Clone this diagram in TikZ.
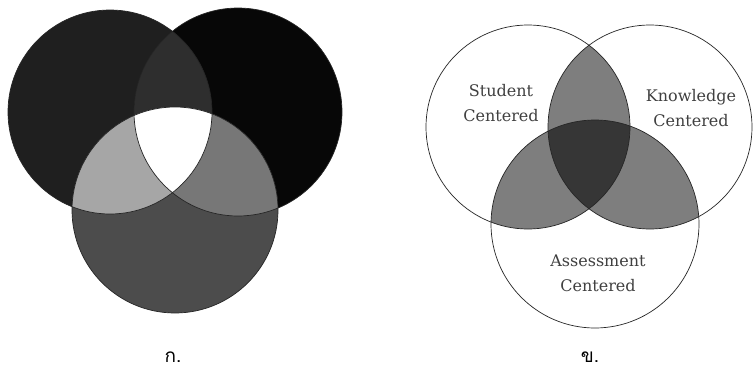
\documentclass[tikz,border=0pt]{standalone}
\usepackage{fontspec}
\setmainfont{DejaVu Serif}
\newfontfamily\thaifont[Script=Thai]{Loma}
\definecolor{cA}{HTML}{1F1F1F}
\definecolor{cB}{HTML}{070707}
\definecolor{cC}{HTML}{4C4C4C}
\definecolor{cAB}{HTML}{2E2E2E}
\definecolor{cAC}{HTML}{A6A6A6}
\definecolor{cBC}{HTML}{777777}
\definecolor{lens}{HTML}{7E7E7E}
\definecolor{core}{HTML}{363636}
\tikzset{
  ring/.style={draw=black!85, line width=0.7pt},
  lbl/.style={font=\fontsize{16}{25}\selectfont, align=center, text=black!75},
  captext/.style={font=\thaifont\fontsize{19}{22}\selectfont}
}
\begin{document}
\begin{tikzpicture}[x=1pt,y=-1pt]
\useasboundingbox (0,0) rectangle (753,372);
\fill[white] (0,0) rectangle (753,372);
% ---------- left diagram ----------
\coordinate (L1) at (110,112);
\coordinate (L2) at (238,112);
\coordinate (L3) at (175,210);
\def\ra{102}\def\rb{104}\def\rc{103}
\fill[cA] (L1) circle (\ra);
\fill[cB] (L2) circle (\rb);
\fill[cC] (L3) circle (\rc);
\begin{scope}\clip (L1) circle (\ra); \fill[cAB] (L2) circle (\rb); \end{scope}
\begin{scope}\clip (L1) circle (\ra); \fill[cAC] (L3) circle (\rc); \end{scope}
\begin{scope}\clip (L2) circle (\rb); \fill[cBC] (L3) circle (\rc); \end{scope}
\begin{scope}\clip (L1) circle (\ra); \clip (L2) circle (\rb); \fill[white] (L3) circle (\rc); \end{scope}
\draw[ring] (L1) circle (\ra);
\draw[ring] (L2) circle (\rb);
\draw[ring] (L3) circle (\rc);
\node[captext] (ka) at (173,357) {ก.};
% ---------- right diagram ----------
\coordinate (R1) at (528,127);
\coordinate (R2) at (650,127);
\coordinate (R3) at (595,224);
\def\rr{102}\def\rs{104}
\begin{scope}\clip (R1) circle (\rr); \fill[lens] (R2) circle (\rr); \end{scope}
\begin{scope}\clip (R1) circle (\rr); \fill[lens] (R3) circle (\rs); \end{scope}
\begin{scope}\clip (R2) circle (\rr); \fill[lens] (R3) circle (\rs); \end{scope}
\begin{scope}\clip (R1) circle (\rr); \clip (R2) circle (\rr); \fill[core] (R3) circle (\rs); \end{scope}
\draw[ring] (R1) circle (\rr);
\draw[ring] (R2) circle (\rr);
\draw[ring] (R3) circle (\rs);
\node[lbl] (stu) at (501,103) {Student\\Centered};
\node[lbl] (kno) at (691,108) {Knowledge\\Centered};
\node[lbl] (ass) at (598,273) {Assessment\\Centered};
\node[captext] (kho) at (590,357) {ข.};
\end{tikzpicture}
\end{document}
